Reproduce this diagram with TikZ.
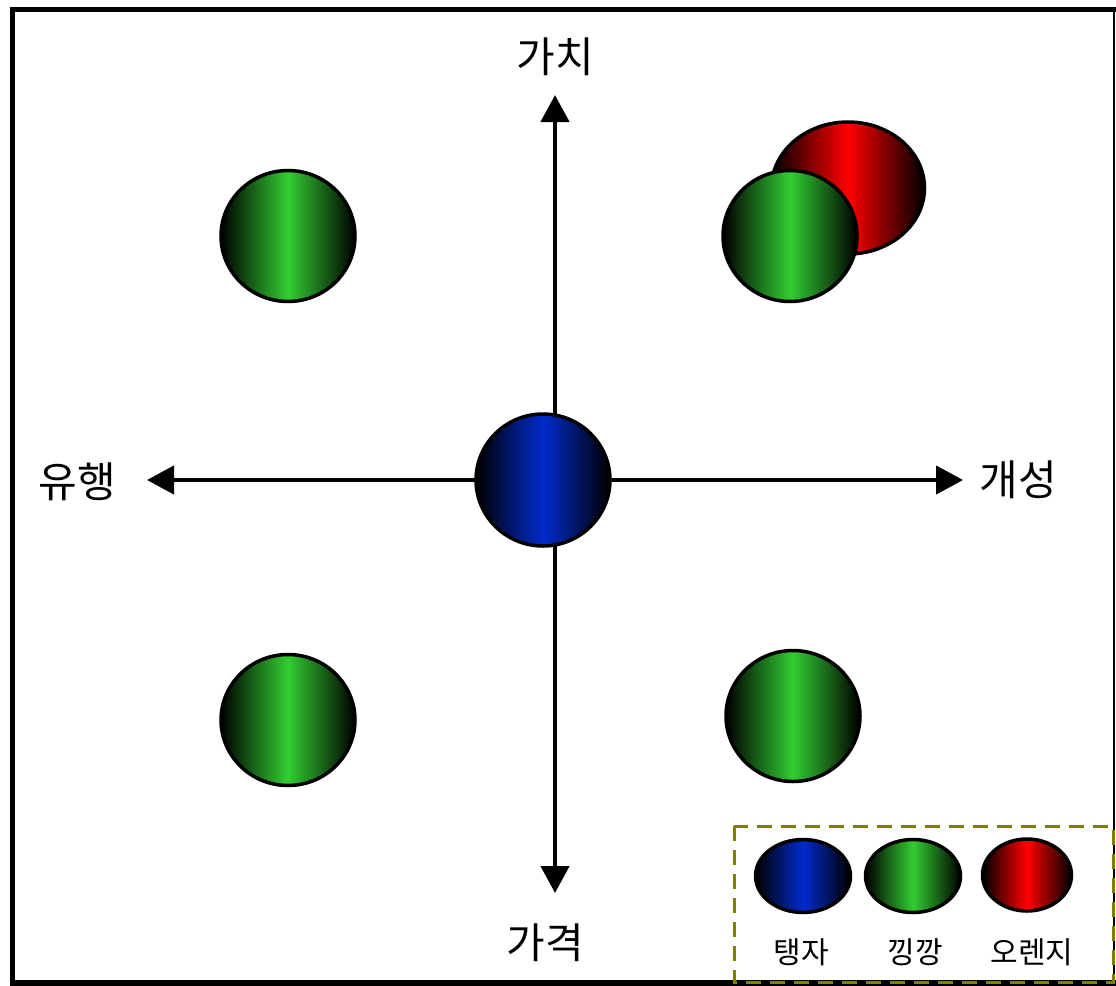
\documentclass[tikz,border=0pt]{standalone}
\usepackage{fontspec}
\newfontfamily\kr{Noto Sans CJK KR}
\usetikzlibrary{shapes.geometric,arrows.meta}
\definecolor{ballgreen}{RGB}{50,205,50}
\definecolor{ballblue}{RGB}{0,43,204}
\definecolor{ballred}{RGB}{255,0,0}
\definecolor{legendolive}{RGB}{128,128,0}
\tikzset{
  ball/.style={ellipse, draw=black, line width=3.5pt, inner sep=0pt, left color=black, right color=black},
  gball/.style={ball, middle color=ballgreen},
  bball/.style={ball, middle color=ballblue},
  rball/.style={ball, middle color=ballred},
  axisline/.style={line width=4.5pt, {Triangle[length=27pt,width=28pt]}-{Triangle[length=27pt,width=28pt]}},
  axislabel/.style={font=\kr\fontsize{42pt}{42pt}\selectfont, inner sep=0pt},
  leglabel/.style={font=\kr\fontsize{30pt}{30pt}\selectfont, inner sep=0pt},
  legbox/.style={draw=legendolive, line width=3pt, dash pattern=on 15pt off 9pt},
  frameline/.style={line width=5.5pt},
}
\begin{document}
\begin{tikzpicture}[x=1pt,y=-1pt]
\useasboundingbox (0,0) rectangle (1116,985);
% frame
\coordinate (f1) at (12.5,9.5);
\coordinate (f2) at (1113.5,9.5);
\coordinate (f3) at (1113.5,983);
\coordinate (f4) at (12.5,983);
\draw[frameline, line cap=rect] (f4) -- (f1) -- (f2);
\draw[frameline, line cap=rect] (f4) -- (f3);
\draw[line width=2pt] (f2) -- (f3);
% axes
\coordinate (T) at (555,95);
\coordinate (B) at (555,893);
\coordinate (L) at (147,480);
\coordinate (R) at (963,480);
\draw[axisline] (B) -- (T);
\draw[axisline] (L) -- (R);
% labels
\node[axislabel] (lt) at (555,57) {가치};
\node[axislabel] (lb) at (545,943) {가격};
\node[axislabel] (ll) at (77,482) {유행};
\node[axislabel] (lr) at (1018,480) {개성};
% balls
\node[bball, minimum width=134pt, minimum height=132pt] (center) at (543,480) {};
\node[gball, minimum width=134pt, minimum height=131pt] (tl) at (288,236) {};
\node[rball, minimum width=153pt, minimum height=132pt] (red) at (848,188) {};
\node[gball, minimum width=134pt, minimum height=131pt] (tr) at (790,236) {};
\node[gball, minimum width=134pt, minimum height=131pt] (bl) at (288,720) {};
\node[gball, minimum width=134pt, minimum height=131pt] (br) at (793,716) {};
% legend
\draw[legbox] (734,826) rectangle (1113,982);
\node[bball, minimum width=95pt, minimum height=73pt] (lgb) at (803,876) {};
\node[gball, minimum width=95pt, minimum height=73pt] (lgg) at (913,876) {};
\node[rball, minimum width=89pt, minimum height=72pt] (lgr) at (1027,875) {};
\node[leglabel] (tb) at (801,952) {탱자};
\node[leglabel] (tg) at (915,952) {낑깡};
\node[leglabel] (tr2) at (1032,952) {오렌지};
\end{tikzpicture}
\end{document}
